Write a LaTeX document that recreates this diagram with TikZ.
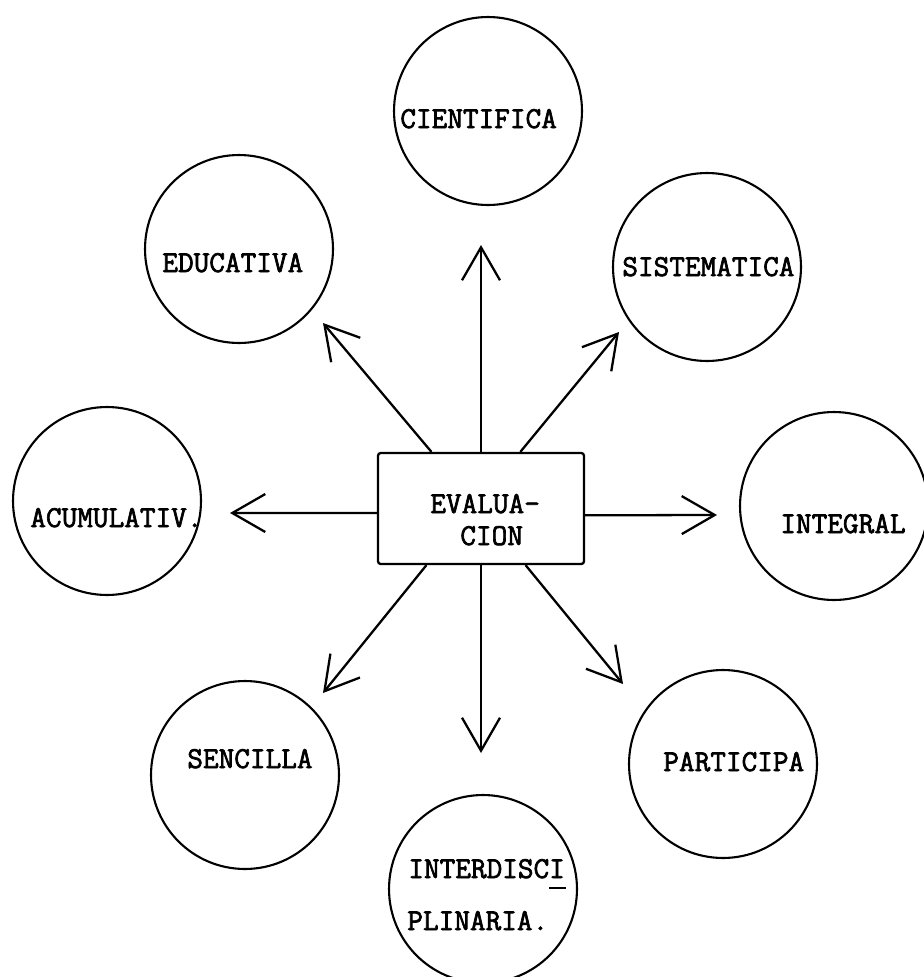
\documentclass[tikz,border=0pt]{standalone}
\usepackage{fontspec}
\newfontfamily\tyfont[FakeBold=2.2]{Latin Modern Mono}
\usetikzlibrary{arrows.meta,calc}
\begin{document}
\begin{tikzpicture}[x=0.02cm,y=-0.02cm,
  circ/.style={draw,circle,minimum size=3.76cm,inner sep=0pt,line width=1.2pt},
  lbl/.style={anchor=base west,inner sep=0pt,font=\fontsize{17.3}{20}\selectfont\tyfont},
  arr/.style={line width=1.3pt,-{Straight Barb[length=0.66cm,width=0.76cm]}},
  evalbox/.style={draw,rectangle,minimum width=4.12cm,minimum height=2.22cm,line width=1.3pt,rounded corners=1.5pt,inner sep=0pt}]
\useasboundingbox (0,0) rectangle (923,977);

% central box
\node[evalbox] (eval) at (481,508.5) {};
\node[lbl] (t1) at (430,513) {EVALUA-};
\node[lbl] (t2) at (460,545) {CION};

% circles
\node[circ] (cien) at (488,111) {};
\node[circ] (educ) at (239,249) {};
\node[circ] (sist) at (707,267) {};
\node[circ] (acum) at (107,501) {};
\node[circ] (integ) at (834,506) {};
\node[circ] (senc) at (245,775) {};
\node[circ] (part) at (723,764) {};
\node[circ] (inter) at (483,889) {};

% labels
\node[lbl] (lcien) at (400,128) {CIENTIFICA};
\node[lbl] (leduc) at (162,272) {EDUCATIVA};
\node[lbl] (lsist) at (622,276) {SISTEMATICA};
\node[lbl] (lacum) at (30,527) {ACUMULATIV.};
\node[lbl] (linteg) at (780,533) {INTEGRAL};
\node[lbl] (lsenc) at (187,768) {SENCILLA};
\node[lbl] (lpart) at (663,771) {PARTICIPA};
\node[lbl] (linter1) at (408,878) {INTERDISC\rlap{\rule[-0.21cm]{0.34cm}{0.04cm}}I};
\node[lbl] (linter2) at (407,930) {PLINARIA.};

% arrow tips
\coordinate (pcien) at (481,245);
\coordinate (peduc) at (323,323);
\coordinate (psist) at (619,332);
\coordinate (pacum) at (230,513);
\coordinate (pinteg) at (717,515);
\coordinate (psenc) at (323,693);
\coordinate (pinter) at (481,753);
\coordinate (ppart) at (623,684);

% connectors
\draw[arr] (eval.north) -- (pcien);
\draw[arr] ($(eval.north west)!0.262!(eval.north east)$) -- (peduc);
\draw[arr] ($(eval.north west)!0.689!(eval.north east)$) -- (psist);
\draw[arr] ($(eval.north west)!0.54!(eval.south west)$) -- (pacum);
\draw[arr] ($(eval.north east)!0.56!(eval.south east)$) -- (pinteg);
\draw[arr] ($(eval.south west)!0.238!(eval.south east)$) -- (psenc);
\draw[arr] (eval.south) -- (pinter);
\draw[arr] ($(eval.south west)!0.714!(eval.south east)$) -- (ppart);
\end{tikzpicture}
\end{document}
